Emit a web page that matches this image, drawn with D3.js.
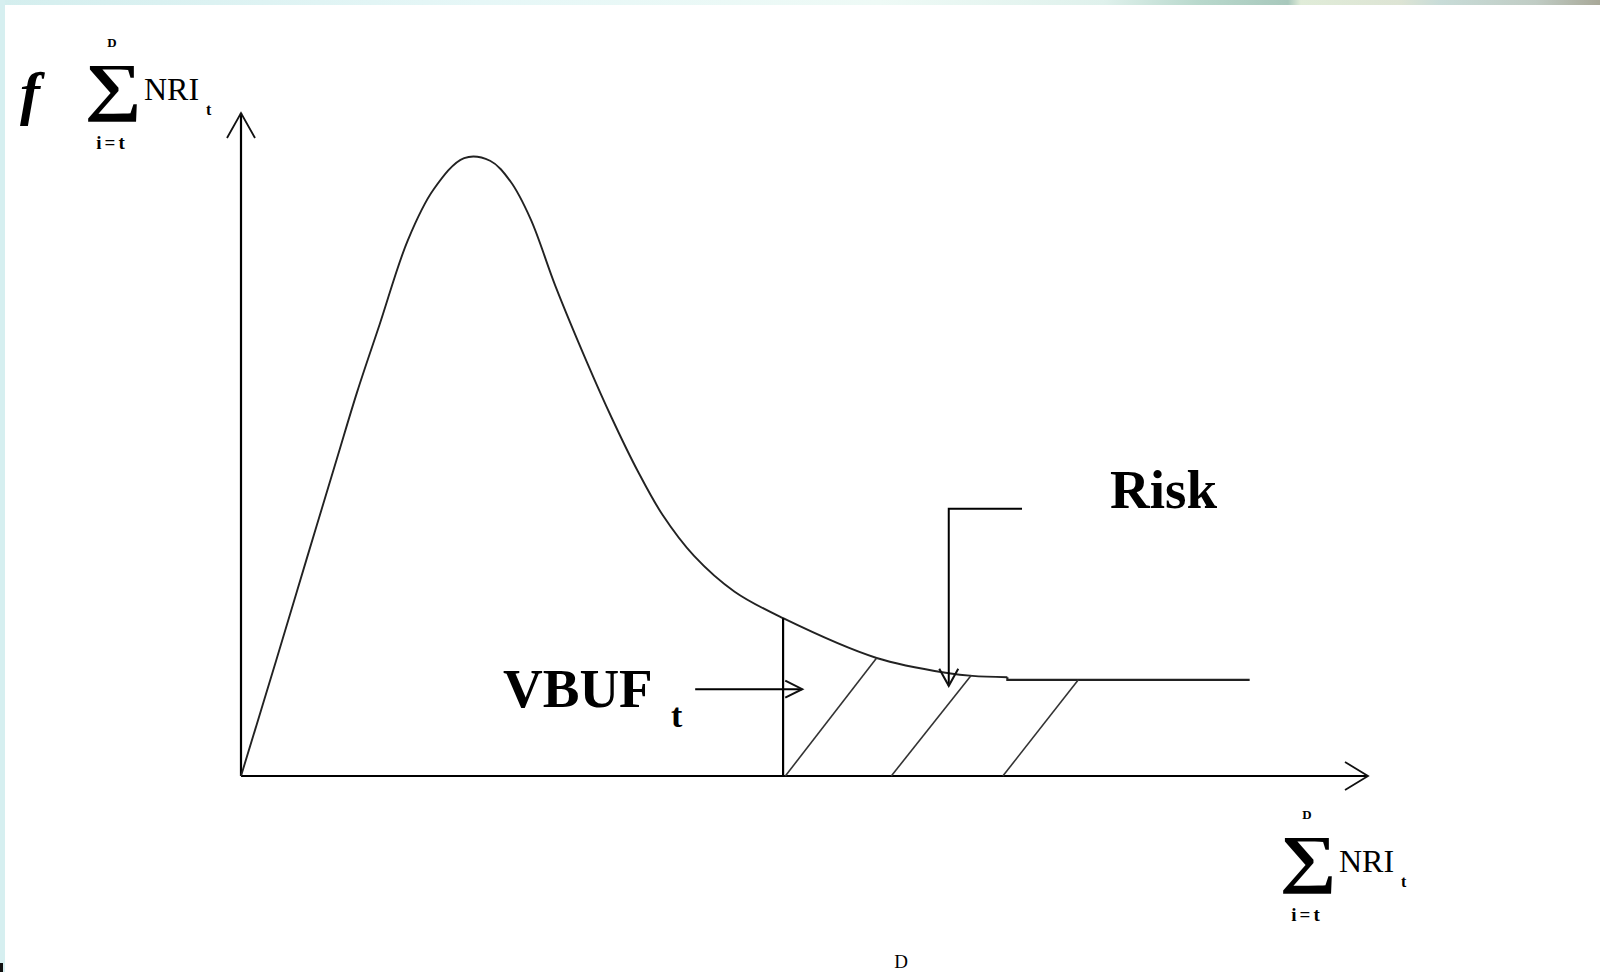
<!DOCTYPE html>
<html>
<head>
<meta charset="utf-8">
<script src="https://cdn.jsdelivr.net/npm/d3@7"></script>
<style>
  html, body { margin: 0; padding: 0; background: #fff; }
  svg { display: block; }
</style>
</head>
<body>
<div id="chart"></div>
<script>
// density curve (x = summed NRI, y = frequency)
const curveX = [0, 3.1, 5.8, 8.5, 10.3, 12.3, 14.8, 17.1, 19.8, 22.1, 23.9, 25.7, 27.9, 30.7, 32.9, 35.2, 37.4, 40.2, 43.8, 48.1, 56.4, 62.8, 64.9, 68.0];
const curveY = [0, 17.3, 32.6, 47.8, 57.9, 68.1, 80.8, 88.5, 93.2, 92.8, 89.7, 84.0, 73.9, 62.4, 54.0, 46.0, 39.4, 33.2, 27.8, 23.8, 17.8, 15.5, 15.1, 14.9];
// flat tail after the small step
const tailX = [68.0, 68.0, 89.5];
const tailY = [14.9, 14.5, 14.5];

// VBUF threshold and the hatched risk area
const vbufX = 48.1;
const vbufTop = 23.8;
const hatchX0 = [48.3, 57.7, 67.6];
const hatchX1 = [56.4, 64.8, 74.3];
const hatchY1 = [17.8, 15.2, 14.5];

// annotation arrows
const vbufArrowX = [40.3, 49.8];
const vbufArrowY = 13.1;
const riskArrowX = [69.3, 62.8];
const riskArrowY = [40.3, 13.6];

// axis extents
const xMax = 100;
const yMax = 100;

//define positional parameters
let svgWidth = 1600;
let svgHeight = 972;
let originX = 241;
let originY = 776;

let svg = d3.select("#chart")
  .append("svg")
  .attr("width", svgWidth)
  .attr("height", svgHeight);

//background border strips
let grad = svg.append("defs").append("linearGradient")
  .attr("id", "topStrip")
  .attr("x1", "0%").attr("x2", "100%");
[[0, "#d4eeee"], [0.3, "#e6f7f7"], [0.55, "#eefaf6"], [0.69, "#dff1ec"], [0.75, "#b8d8cc"], [0.805, "#a8c8bc"], [0.813, "#e0ecd8"], [0.875, "#dde4d4"], [0.9, "#c8dcd8"], [0.96, "#c0ccc4"], [1, "#a8a898"]]
  .forEach(s => grad.append("stop").attr("offset", s[0]).attr("stop-color", s[1]));

svg.append("rect").attr("x", 0).attr("y", 0).attr("width", svgWidth).attr("height", 5).attr("fill", "url(#topStrip)");
svg.append("rect").attr("x", 0).attr("y", 0).attr("width", 5).attr("height", svgHeight).attr("fill", "#d6eff0");
svg.append("rect").attr("x", 0).attr("y", 963).attr("width", 3).attr("height", 9).attr("fill", "#111");

//scales
let xScale = d3.scaleLinear().domain([0, xMax]).range([originX, 1368]);
let yScale = d3.scaleLinear().domain([0, yMax]).range([originY, 113]);

let g = svg.append("g");

//axes
g.append("line")
  .attr("x1", xScale(0)).attr("y1", yScale(0))
  .attr("x2", xScale(xMax)).attr("y2", yScale(0))
  .attr("stroke", "#000").attr("stroke-width", 2.2);
g.append("line")
  .attr("x1", xScale(0)).attr("y1", yScale(0))
  .attr("x2", xScale(0)).attr("y2", yScale(yMax))
  .attr("stroke", "#000").attr("stroke-width", 2.2);

//open arrow head helper (dx,dy = unit direction of the arrow)
function arrowHead(tx, ty, dx, dy, len, half, width) {
  let bx = tx - dx * len, by = ty - dy * len;
  let px = -dy, py = dx;
  g.append("path")
    .attr("d", `M${bx + px * half},${by + py * half}L${tx},${ty}L${bx - px * half},${by - py * half}`)
    .attr("fill", "none")
    .attr("stroke", "#111")
    .attr("stroke-width", width);
}
arrowHead(xScale(xMax), yScale(0), 1, 0, 23, 14, 1.8);
arrowHead(xScale(0), yScale(yMax), 0, -1, 25, 14, 1.8);

//density curve
let line = d3.line()
  .x((d, i) => xScale(curveX[i]))
  .y((d, i) => yScale(curveY[i]))
  .curve(d3.curveCatmullRom.alpha(0.5));
g.append("path")
  .datum(curveX)
  .attr("d", line)
  .attr("fill", "none")
  .attr("stroke", "#222")
  .attr("stroke-width", 1.9);

let tail = d3.line()
  .x((d, i) => xScale(tailX[i]))
  .y((d, i) => yScale(tailY[i]));
g.append("path")
  .datum(tailX)
  .attr("d", tail)
  .attr("fill", "none")
  .attr("stroke", "#222")
  .attr("stroke-width", 2.2);

//VBUF threshold
g.append("line")
  .attr("x1", xScale(vbufX)).attr("y1", yScale(0))
  .attr("x2", xScale(vbufX)).attr("y2", yScale(vbufTop))
  .attr("stroke", "#000").attr("stroke-width", 2.2);

//hatching
g.selectAll(".hatch")
  .data(hatchX0)
  .join("line")
  .attr("class", "hatch")
  .attr("x1", d => xScale(d)).attr("y1", yScale(0))
  .attr("x2", (d, i) => xScale(hatchX1[i])).attr("y2", (d, i) => yScale(hatchY1[i]))
  .attr("stroke", "#333").attr("stroke-width", 1.6);

//VBUF arrow
g.append("line")
  .attr("x1", xScale(vbufArrowX[0])).attr("y1", yScale(vbufArrowY))
  .attr("x2", xScale(vbufArrowX[1])).attr("y2", yScale(vbufArrowY))
  .attr("stroke", "#000").attr("stroke-width", 2);
arrowHead(xScale(vbufArrowX[1]), yScale(vbufArrowY), 1, 0, 17, 8.5, 2);

//Risk arrow (elbow)
g.append("path")
  .attr("d", `M${xScale(riskArrowX[0])},${yScale(riskArrowY[0])}H${xScale(riskArrowX[1])}V${yScale(riskArrowY[1])}`)
  .attr("fill", "none")
  .attr("stroke", "#000").attr("stroke-width", 2);
arrowHead(xScale(riskArrowX[1]), yScale(riskArrowY[1]), 0, 1, 17, 9.5, 2);

//text labels
let serif = "'Liberation Serif', 'Times New Roman', serif";

function sumLabel(ox, oy) {
  let lg = svg.append("g").attr("transform", `translate(${ox},${oy})`).attr("font-family", serif).attr("fill", "#000");
  lg.append("text").attr("x", 112).attr("y", 47).attr("text-anchor", "middle").attr("font-size", 13).attr("font-weight", "bold").text("D");
  lg.append("text")
    .attr("transform", "translate(113,108) scale(1.25,1)")
    .attr("text-anchor", "middle").attr("font-size", 64).attr("font-weight", "bold")
    .text("∑");
  lg.append("text").attr("x", 144).attr("y", 100).attr("font-size", 32).text("NRI");
  lg.append("text").attr("x", 206).attr("y", 115).attr("font-size", 16).attr("font-weight", "bold").text("t");
  lg.append("text").attr("x", 112).attr("y", 149).attr("text-anchor", "middle").attr("font-size", 19).attr("font-weight", "bold").attr("letter-spacing", 3).text("i=t");
  return lg;
}

svg.append("text")
  .attr("x", 20).attr("y", 113)
  .attr("font-family", serif).attr("font-size", 60)
  .attr("font-style", "italic").attr("font-weight", "bold")
  .text("f");
sumLabel(0, 0);
sumLabel(1195, 772);

svg.append("text")
  .attr("x", 1110).attr("y", 508)
  .attr("font-family", serif).attr("font-size", 55).attr("font-weight", "bold")
  .text("Risk");

svg.append("text")
  .attr("x", 503).attr("y", 707)
  .attr("font-family", serif).attr("font-size", 55).attr("font-weight", "bold")
  .text("VBUF");
svg.append("text")
  .attr("x", 671).attr("y", 727)
  .attr("font-family", serif).attr("font-size", 34).attr("font-weight", "bold")
  .text("t");

svg.append("text")
  .attr("x", 901).attr("y", 968)
  .attr("text-anchor", "middle")
  .attr("font-family", serif).attr("font-size", 19)
  .text("D");
</script>
</body>
</html>
